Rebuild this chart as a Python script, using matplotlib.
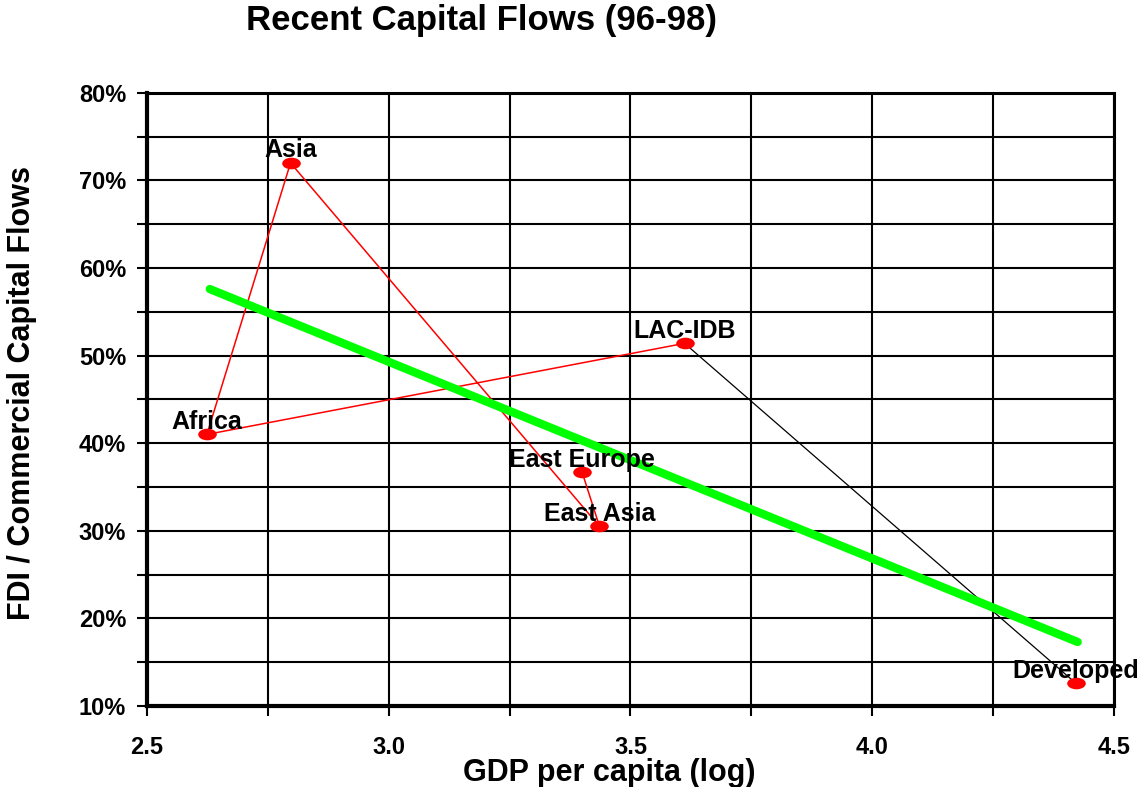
import matplotlib.pyplot as plt
import numpy as np
from matplotlib.markers import MarkerStyle
from matplotlib.transforms import Affine2D

plt.rcParams["font.family"] = ["Liberation Sans", "DejaVu Sans"]
plt.rcParams["font.weight"] = "bold"

# data
regions = ["East Europe", "East Asia", "Asia", "Africa", "LAC-IDB", "Developed"]
gdp_log = np.array([3.40, 3.436, 2.797, 2.624, 3.612, 4.421])
fdi_share = np.array([36.7, 30.5, 72.0, 41.0, 51.4, 12.6])  # %

trend_x = np.array([2.63, 4.425])
trend_y = np.array([57.6, 17.3])  # %

fig = plt.figure(figsize=(11.39, 7.87), dpi=100)
ax = fig.add_axes([0.129, 0.103, 0.849, 0.779])

# red path through the regions, then black segment to Developed
ax.plot(gdp_log[:5], fdi_share[:5], color="red", lw=1.1, zorder=3)
ax.plot(gdp_log[4:], fdi_share[4:], color="black", lw=0.9, zorder=3)
ax.plot(trend_x, trend_y, color="#00ff00", lw=6, solid_capstyle="round", zorder=4)

ell = MarkerStyle("o", transform=Affine2D().scale(1.6, 1.0))
ax.scatter(gdp_log, fdi_share, marker=ell, s=70, color="red", zorder=5, linewidths=0)

for name, x, y in zip(regions, gdp_log, fdi_share):
    ax.annotate(name, (x, y), xytext=(0, 9), textcoords="offset points",
                ha="center", va="center", fontsize=18, fontweight="bold", zorder=6)

ax.set_xlim(2.5, 4.5)
ax.set_ylim(10, 80)
ax.set_xticks(np.arange(2.5, 4.51, 0.25))
ax.set_xticklabels(["2.5", "", "3.0", "", "3.5", "", "4.0", "", "4.5"])
ax.set_yticks(np.arange(10, 81, 5))
ax.set_yticklabels([f"{v}%" if v % 10 == 0 else "" for v in range(10, 81, 5)])

ax.grid(True, color="black", lw=1.5)
ax.set_axisbelow(True)
ax.tick_params(axis="x", length=7, width=1.5, pad=15, labelsize=17)
ax.tick_params(axis="y", length=7, width=1.5, pad=8, labelsize=17)
for s in ["left", "bottom"]:
    ax.spines[s].set_linewidth(3)
for s in ["top", "right"]:
    ax.spines[s].set_linewidth(2.2)

fig.text(0.423, 0.974, "Recent Capital Flows (96-98)", ha="center", va="center",
         fontsize=25, fontweight="bold")
fig.text(0.535, 0.008, "GDP per capita (log)", ha="center", va="baseline",
         fontsize=22, fontweight="bold")
fig.text(0.019, 0.5, "FDI / Commercial Capital Flows", ha="center", va="center",
         rotation=90, fontsize=22, fontweight="bold")

fig.savefig("out.png", dpi=100)
